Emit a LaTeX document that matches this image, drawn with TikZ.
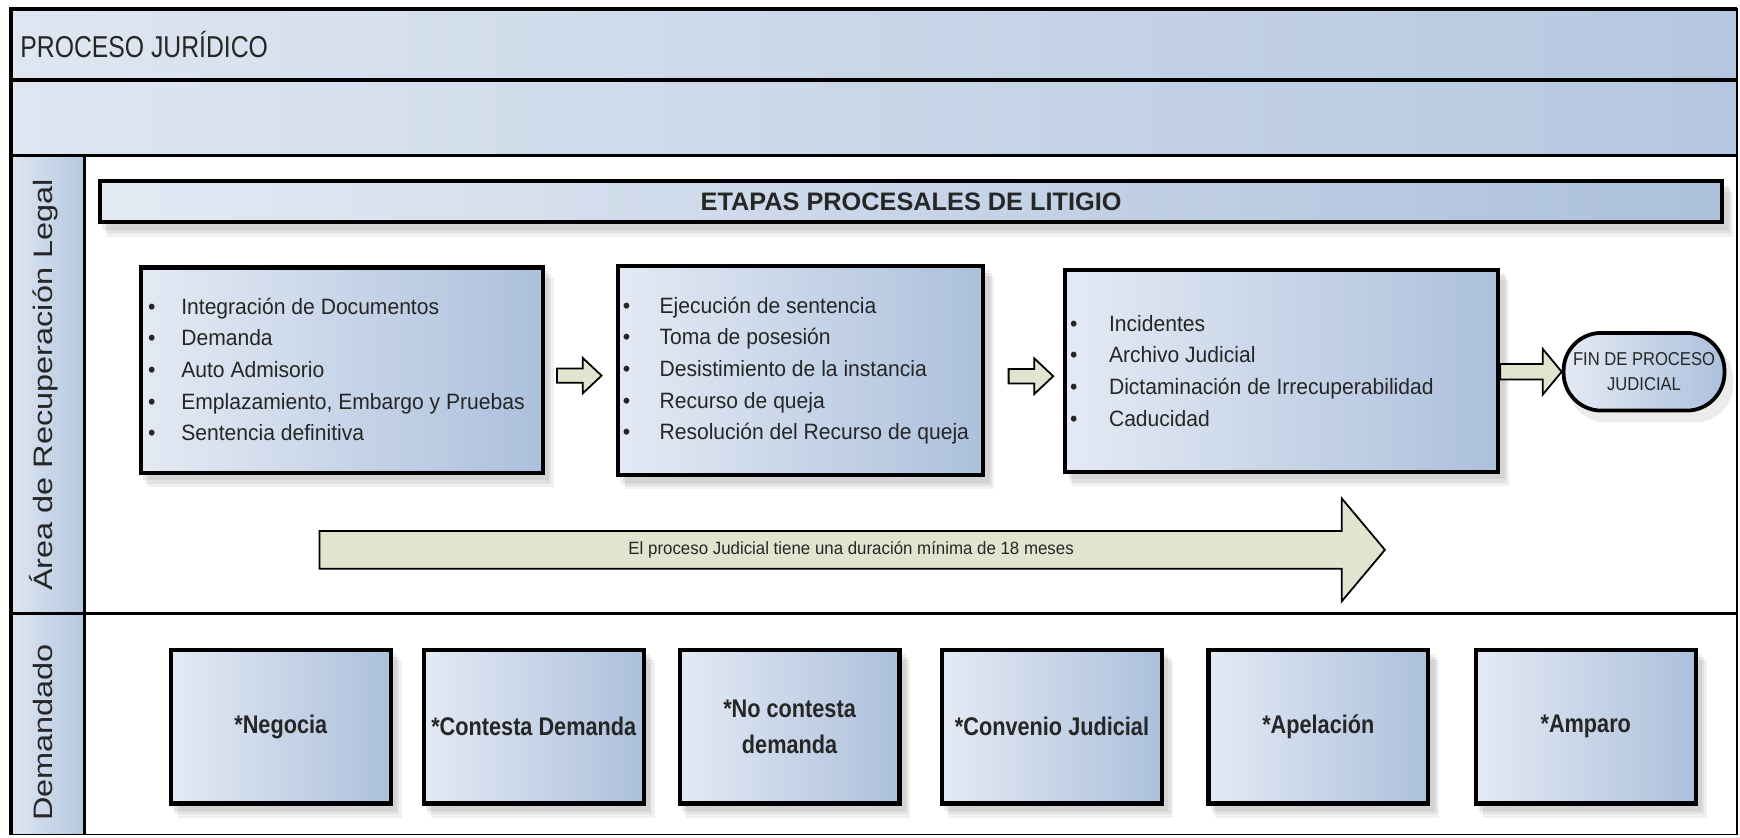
\documentclass[tikz,border=0pt]{standalone}
\usepackage{fontspec}
\setmainfont{Liberation Sans}
\newfontfamily\fTitle[FakeStretch=0.82]{Liberation Sans}
\newfontfamily\fList[FakeStretch=0.95]{Liberation Sans}
\newfontfamily\fFin[FakeStretch=0.89]{Liberation Sans}
\newfontfamily\fVert[FakeStretch=1.22]{Liberation Sans}
\newfontfamily\fLab[FakeStretch=0.85]{Liberation Sans}
\newfontfamily\fEt[FakeStretch=1.0]{Liberation Sans}
\usetikzlibrary{calc}
\pgfdeclarelayer{bg}\pgfdeclarelayer{shd}\pgfsetlayers{bg,shd,main}

\definecolor{hdrL}{RGB}{222,230,241}
\definecolor{hdrR}{RGB}{181,199,224}
\definecolor{boxL}{RGB}{228,234,244}
\definecolor{boxR}{RGB}{172,192,220}
\definecolor{arrF}{RGB}{227,228,208}

\newcommand{\bitem}[1][15pt]{\makebox[#1][l]{\textbullet}}
\newcommand{\softshadow}[1]{%
  \begin{pgfonlayer}{shd}
  \foreach \o/\p in {4/5,6/8,8/11}{%
    \fill[black,opacity=0.06] ($(#1.north west)+(\o,\p)$) rectangle ($(#1.south east)+(\o,\p)$);}
  \end{pgfonlayer}}
\newcommand{\blockarr}[5]{%
  \draw[blockarrow] let \p1=(#1), \p2=(#2) in
    (\x1,{\y1+#3*0.5pt}) -- ({\x2-#5*0.5pt},{\y1+#3*0.5pt}) -- ({\x2-#5*0.5pt},{\y1+#4*0.5pt})
    -- (\x2,\y1) -- ({\x2-#5*0.5pt},{\y1-#4*0.5pt}) -- ({\x2-#5*0.5pt},{\y1-#3*0.5pt})
    -- (\x1,{\y1-#3*0.5pt}) -- cycle;}

\tikzset{
  lane/.style={left color=hdrL, right color=hdrR},
  sepline/.style={line width=1.5pt},
  stagebox/.style={draw, line width=1.9pt, left color=boxL, right color=boxR, inner sep=0pt},
  blockarrow/.style={draw, line width=0.8pt, fill=arrF, line join=miter},
  listtext/.style={align=left, font=\fList\fontsize{10}{14.25}\selectfont, inner sep=0pt, anchor=west, text=black!85},
  optbox/.style={stagebox, minimum width=99pt, minimum height=69pt, align=center,
     font=\fLab\bfseries\fontsize{11.5}{16}\selectfont, text=black!85},
  vertlabel/.style={rotate=90, font=\fVert\fontsize{12}{14}\selectfont, inner sep=0pt, text=black!85}
}

\begin{document}
\begin{tikzpicture}[x=0.5pt,y=-0.5pt]
\useasboundingbox (0,0) rectangle (1568,755);

% pool structure
\begin{pgfonlayer}{bg}
\fill[white] (10,8) rectangle (1565,752);
\fill[lane] (10,8) rectangle (1565,72);
\fill[lane] (10,72) rectangle (1565,140);
\fill[lane] (10,140) rectangle (76,553);
\fill[lane] (10,553) rectangle (76,752);
\draw[line width=0.8pt] (10,8) rectangle (1565,752);
\draw[sepline] (1565,8) -- (10,8) -- (10,752);
\draw[sepline] (10,72) -- (1565,72);
\draw[sepline] (10,140) -- (1565,140);
\draw[sepline] (10,553) -- (1565,553);
\draw[sepline] (76,140) -- (76,752);
\end{pgfonlayer}

\node[anchor=west, inner sep=0pt, font=\fTitle\fontsize{13.6}{16}\selectfont, text=black!85] (title) at (18,40) {PROCESO JURÍDICO};
\node[vertlabel] (lane1) at (39,347) {Área de Recuperación Legal};
\node[vertlabel] (lane2) at (39,660) {Demandado};

% etapas bar
\node[stagebox, line width=1.8pt, minimum width=731pt, minimum height=18.5pt,
      font=\fEt\bfseries\fontsize{11.4}{13}\selectfont, text=black!85] (etapas) at (821,182) {ETAPAS PROCESALES DE LITIGIO};
\softshadow{etapas}

% stage boxes
\node[stagebox, minimum width=181pt, minimum height=92.5pt] (b1) at (308,333.5) {};
\node[stagebox, minimum width=164.5pt, minimum height=94pt] (b2) at (721.5,334) {};
\node[stagebox, minimum width=195pt, minimum height=91pt] (b3) at (1155,334) {};
\softshadow{b1}\softshadow{b2}\softshadow{b3}

\node[listtext] (b1t) at (133,333) {\bitem Integración de Documentos\\ \bitem Demanda\\ \bitem Auto Admisorio\\ \bitem Emplazamiento, Embargo y Pruebas\\ \bitem Sentencia definitiva};
\node[listtext] (b2t) at (561,334) {\bitem[16.5pt]Ejecución de sentencia\\ \bitem[16.5pt]Toma de posesión\\ \bitem[16.5pt]Desistimiento de la instancia\\ \bitem[16.5pt]Recurso de queja\\ \bitem[16.5pt]Resolución del Recurso de queja};
\node[listtext] (b3t) at (964,334) {\bitem[17.5pt]Incidentes\\ \bitem[17.5pt]Archivo Judicial\\ \bitem[17.5pt]Dictaminación de Irrecuperabilidad\\ \bitem[17.5pt]Caducidad};

% end node
\node[draw, line width=1.7pt, rounded corners=17pt, left color=boxL, right color=boxR,
      minimum width=72.5pt, minimum height=35pt, inner sep=0pt, align=center,
      font=\fFin\fontsize{8.4}{11.25}\selectfont, text=black!85] (fin) at (1481.5,335) {FIN DE PROCESO\\JUDICIAL};
\begin{pgfonlayer}{shd}
\fill[black,opacity=0.08, rounded corners=17pt] ($(fin.north west)+(6,9)$) rectangle ($(fin.south east)+(6,9)$);
\end{pgfonlayer}

% block arrows
\coordinate (a1s) at ($(b1.east)+(11,5)$);
\coordinate (a1e) at ($(b2.west)+(-13,5)$);
\coordinate (a2s) at ($(b2.east)+(21,5)$);
\coordinate (a2e) at ($(b3.west)+(-9,5)$);
\coordinate (a3s) at (b3.east |- fin.west);
\blockarr{a1s}{a1e}{6.5}{16}{17}
\blockarr{a2s}{a2e}{6.5}{16}{17}
\blockarr{a3s}{fin.west}{7}{20.5}{17}

% duration arrow
\coordinate (ds) at (288,495.5);
\coordinate (de) at (1248,495.5);
\blockarr{ds}{de}{17}{46.5}{39}
\node[inner sep=0pt, font=\fList\fontsize{8}{10}\selectfont, text=black!85] (dur) at (767,495.5) {El proceso Judicial tiene una duración mínima de 18 meses};

% defendant options
\node[optbox] (o1) at (253,655) {*Negocia};
\node[optbox] (o2) at (481,655) {*Contesta Demanda};
\node[optbox] (o3) at (711.5,655) {*No contesta\\demanda};
\node[optbox] (o4) at (948,655) {*Convenio Judicial};
\node[optbox] (o5) at (1188,655) {*Apelación};
\node[optbox] (o6) at (1429,655) {*Amparo};
\foreach \n in {o1,o2,o3,o4,o5,o6}{\softshadow{\n}}
\end{tikzpicture}
\end{document}
